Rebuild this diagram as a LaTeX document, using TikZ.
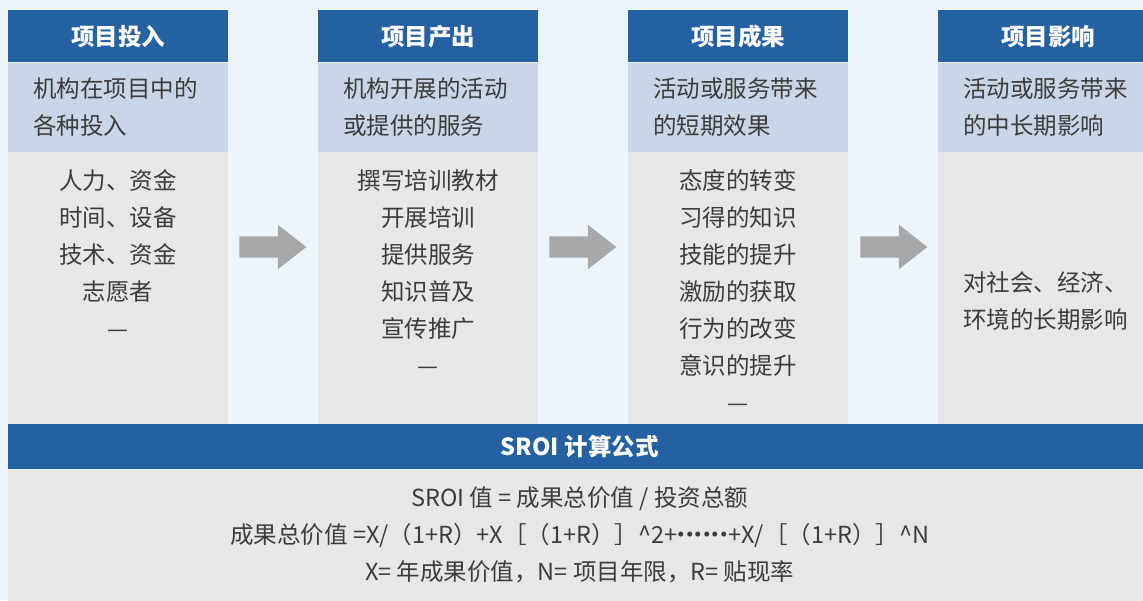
\documentclass[tikz,border=0pt]{standalone}
\usepackage{fontspec}
\setmainfont{Noto Sans CJK SC}
\usepackage{tikz}
\usetikzlibrary{
  positioning,
  shapes.arrows}

\definecolor{pagebg}{HTML}{EDF5FC}
\definecolor{hdrblue}{HTML}{2561A2}
\definecolor{subblue}{HTML}{C9D6E8}
\definecolor{bodygray}{HTML}{E6E7E9}
\definecolor{arrgray}{HTML}{A7A8AA}
\definecolor{txtgray}{HTML}{3C3C3C}
\newcommand\fdot{\makebox[8.5pt]{·}}

\begin{document}
\begin{tikzpicture}[x=1pt,y=-1pt]
\tikzset{
  hdr/.style={fill=hdrblue, text=white, inner sep=0pt, anchor=north west,
    font=\bfseries\fontsize{23.5}{28}\selectfont,
    minimum width=220pt, minimum height=52pt},
  subbox/.style={fill=subblue, text=txtgray, anchor=north west,
    font=\fontsize{23.5}{37}\selectfont, align=left,
    text width=170pt, inner xsep=25pt, inner ysep=0pt, minimum height=89pt},
  bodybox/.style={fill=bodygray, inner sep=0pt, anchor=north west,
    minimum width=220pt, minimum height=273pt},
  bodytext/.style={text=txtgray, inner sep=0pt, align=center,
    font=\fontsize{23.5}{37}\selectfont},
  gaparrow/.style={single arrow, fill=arrgray, inner xsep=0pt,
    inner ysep=10.5pt, minimum height=67pt,
    single arrow head extend=11.5pt, single arrow tip angle=76,
    single arrow head indent=0pt},
}
\useasboundingbox (0,0) rectangle (1143,600);
\clip (0,0) rectangle (1143,600);
\fill[pagebg] (0,0) rectangle (1143,600);

% columns
\node[hdr] (h1) at (8,10) {项目投入};
\node[subbox] (s1) at (h1.south west) {机构在项目中的\\各种投入};
\node[bodybox] (b1) at (s1.south west) {};
\node[bodytext, below=18pt of b1.north] (t1)
  {人力、资金\\时间、设备\\技术、资金\\志愿者\\—};

\node[hdr] (h2) at (318,10) {项目产出};
\node[subbox] (s2) at (h2.south west) {机构开展的活动\\或提供的服务};
\node[bodybox] (b2) at (s2.south west) {};
\node[bodytext, below=18pt of b2.north] (t2)
  {撰写培训教材\\开展培训\\提供服务\\知识普及\\宣传推广\\—};

\node[hdr] (h3) at (628,10) {项目成果};
\node[subbox] (s3) at (h3.south west) {活动或服务带来\\的短期效果};
\node[bodybox] (b3) at (s3.south west) {};
\node[bodytext, below=18pt of b3.north] (t3)
  {态度的转变\\习得的知识\\技能的提升\\激励的获取\\行为的改变\\意识的提升\\—};

\node[hdr] (h4) at (938,10) {项目影响};
\node[subbox] (s4) at (h4.south west) {活动或服务带来\\的中长期影响};
\node[bodybox] (b4) at (s4.south west) {};
\node[bodytext, align=left, anchor=north west] (t4)
  at ([xshift=25pt, yshift=-120pt]b4.north west)
  {对社会、经济、\\环境的长期影响};

% arrows between columns
\node[gaparrow] (a1) at (266,247) {};
\node[gaparrow] (a2) at (576,247) {};
\node[gaparrow] (a3) at (887,247) {};

% formula
\node[hdr, minimum width=1143pt, minimum height=45pt] (fh) at (8,424)
  {SROI 计算公式};
\node[bodybox, minimum width=1143pt, minimum height=131pt,
  text=txtgray, align=center, font=\fontsize{23.5}{37}\selectfont] (fb)
  at (fh.south west)
  {SROI 值 = 成果总价值 / 投资总额\\
   成果总价值 =X/（1+R）+X［（1+R）］\textasciicircum2+\fdot\fdot\fdot\fdot\fdot\fdot+X/［（1+R）］\textasciicircum N\\
   X= 年成果价值，N= 项目年限，R= 贴现率};
\end{tikzpicture}
\end{document}
